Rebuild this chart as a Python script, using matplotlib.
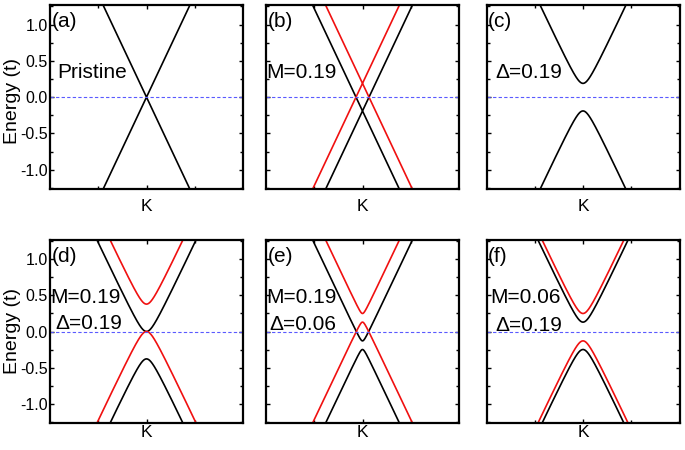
import numpy as np
import matplotlib
matplotlib.use("Agg")
import matplotlib.pyplot as plt
from matplotlib.ticker import MultipleLocator, FixedLocator, FixedFormatter

plt.rcParams['font.family'] = ['Liberation Sans', 'DejaVu Sans']

# ---- data ----
panel_labels = ['(a)', '(b)', '(c)', '(d)', '(e)', '(f)']
M_values = [0.0, 0.19, 0.0, 0.19, 0.19, 0.06]        # exchange field (t)
Delta_values = [0.0, 0.0, 0.19, 0.19, 0.06, 0.19]    # staggered potential (t)
fermi_velocity = 2.82                                # slope of the cone (t per unit k)
k_range = (-1.0, 1.0)
energy_range = (-1.27, 1.27)
y_ticks = [-1.0, -0.5, 0.0, 0.5, 1.0]
y_tick_labels = ['-1.0', '-0.5', '0.0', '0.5', '1.0']
x_tick_label = 'K'
annotations = [
    [('Pristine', 0.036, 0.634)],
    [('M=0.19', 0.0, 0.634)],
    [('\u0394=0.19', 0.046, 0.634)],
    [('M=0.19', 0.0, 0.685), ('\u0394=0.19', 0.026, 0.543)],
    [('M=0.19', 0.0, 0.685), ('\u0394=0.06', 0.016, 0.540)],
    [('M=0.06', 0.02, 0.685), ('\u0394=0.19', 0.046, 0.535)],
]

fig = plt.figure(figsize=(6.85, 4.5), dpi=100)

W = 685.0
H = 450.0
col_left = [50, 266, 486.5]
col_w = 193.0
rows = [(5, 189.3), (240, 423)]

k = np.linspace(k_range[0], k_range[1], 801)

for i in range(6):
    r, c = divmod(i, 3)
    top, bot = rows[r]
    ax = fig.add_axes([col_left[c] / W, 1 - bot / H, col_w / W, (bot - top) / H])
    M = M_values[i]
    D = Delta_values[i]
    disp = np.sqrt((fermi_velocity * k) ** 2 + D ** 2)
    # spin-down (black): shifted by -M, spin-up (red): shifted by +M
    ax.plot(k, -M + disp, color='black', lw=1.2)
    ax.plot(k, -M - disp, color='black', lw=1.2)
    if M > 0:
        ax.plot(k, M + disp, color='#f01010', lw=1.2)
        ax.plot(k, M - disp, color='#f01010', lw=1.2)
    ax.axhline(0.0, color='#5a5aff', lw=0.8, ls=(0, (3, 2)))

    ax.set_xlim(*k_range)
    ax.set_ylim(*energy_range)
    ax.xaxis.set_major_locator(FixedLocator([0.0]))
    ax.xaxis.set_major_formatter(FixedFormatter([x_tick_label]))
    ax.xaxis.set_minor_locator(FixedLocator([-0.5, 0.5]))
    ax.yaxis.set_major_locator(FixedLocator(y_ticks))
    ax.yaxis.set_minor_locator(MultipleLocator(0.25))
    if c == 0:
        ax.yaxis.set_major_formatter(FixedFormatter(y_tick_labels))
        ax.set_ylabel('Energy (t)', fontsize=14, labelpad=0)
        ax.yaxis.set_label_coords(-0.15, 0.48 if r == 0 else 0.5)
    else:
        ax.set_yticklabels([])
    ax.tick_params(axis='both', which='both', direction='in', top=True, right=True,
                   width=1.0, labelsize=11.5)
    ax.tick_params(axis='both', which='major', length=3.0)
    ax.tick_params(axis='both', which='minor', length=2.5)
    ax.tick_params(axis='y', pad=1.5)
    ax.tick_params(axis='x', labelsize=12.5, pad=(7.0 if r == 0 else 1.5))
    for s in ax.spines.values():
        s.set_linewidth(1.6)

    ax.text(0.008, 0.909, panel_labels[i], transform=ax.transAxes,
            fontsize=15, ha='left', va='center')
    for txt, x, y in annotations[i]:
        ax.text(x, y, txt, transform=ax.transAxes, fontsize=15,
                ha='left', va='center')

fig.savefig('out.png', dpi=100)
